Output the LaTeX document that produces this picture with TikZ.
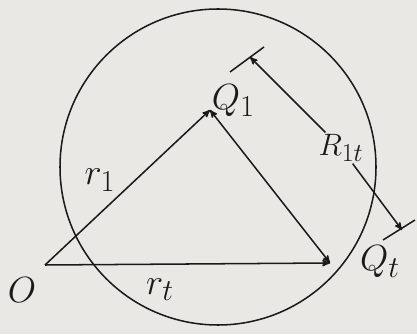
\documentclass[tikz,border=0pt]{standalone}
\usepackage{xcolor}
\usepackage{tikz}
\usetikzlibrary{arrows,calc}
\definecolor{paper}{HTML}{E9E8E4}
\definecolor{pencil}{HTML}{1A1A1A}

\begin{document}
\begin{tikzpicture}[line width=1.3pt, color=pencil, >=stealth',
  lbl/.style={font=\Huge, inner sep=1pt, scale=1.25, transform shape}]
\fill[paper] (0,0) rectangle (12.51,10.02);
% Points
\coordinate (O) at (1.35,2.07);
\coordinate (Q1) at (6.3,6.72);
\coordinate (Qt) at (9.9,2.13);
% Sphere round Q1
\draw (6.54,5.01) circle (4.74);
% Position vectors
\draw[->] (O) -- (Q1);
\draw[->] (O) -- (Qt);
\draw[<->] (Q1) -- (Qt);
% Labels
\node[lbl] (lO) at (0.66,1.32) {$O$};
\node[lbl] (lr1) at (3.0,4.62) {$r_1$};
\node[lbl] (lrt) at (4.8,1.32) {$r_t$};
\node[lbl] (lQ1) at (7.0,7.0) {$Q_1$};
\node[lbl] (lQt) at (11.4,2.16) {$Q_t$};
% Distance R1t
\coordinate (A) at (7.5,8.31);
\coordinate (B) at (12.06,3.12);
\draw (6.9,7.86) -- (7.92,8.61);
\draw (11.49,2.82) -- (12.45,3.42);
\node[lbl, scale=0.85] (lR) at (10.23,5.58) {$R_{1t}$};
\draw[->] (lR) -- (A);
\draw[->] (lR) -- (B);
\end{tikzpicture}
\end{document}
